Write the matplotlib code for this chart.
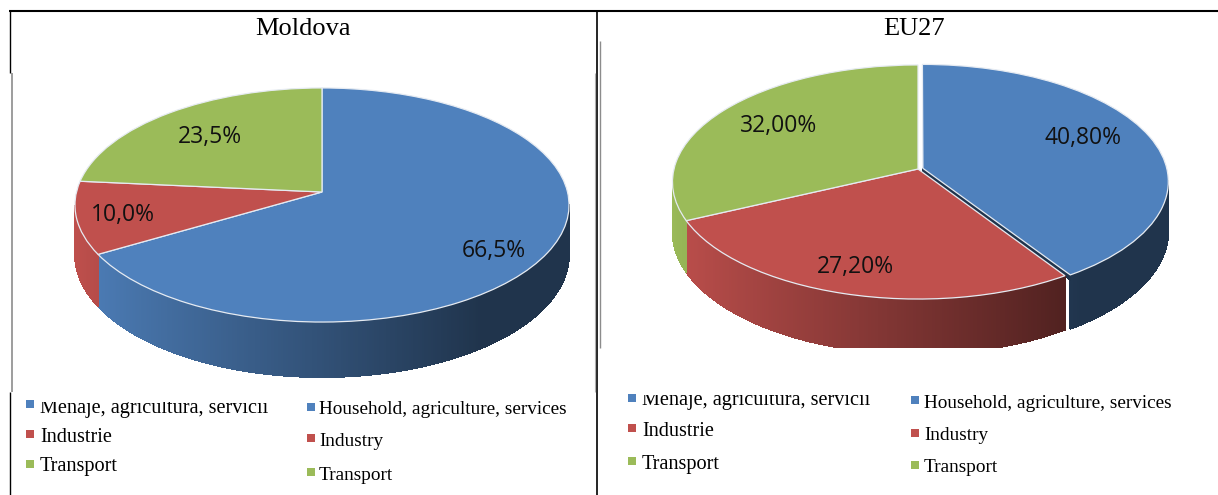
import numpy as np
import matplotlib
matplotlib.use("Agg")
import matplotlib.pyplot as plt
from matplotlib.transforms import Transform, Bbox, TransformedBbox
from matplotlib.collections import PolyCollection
from matplotlib.patches import Rectangle
from matplotlib.colors import to_rgb

# ---- data ----
moldova_values = [66.5, 10.0, 23.5]
eu_values = [40.80, 27.20, 32.00]
panel_titles = ["Moldova", "EU27"]
legend_ro = ["Menaje, agricultura, servicii", "Industrie", "Transport"]
legend_en = ["Household, agriculture, services", "Industry", "Transport"]
colors = ["#4f81bd", "#c0504d", "#9bbb59"]

K = 0.111      # perspective strength
A_Y = 115.6    # vertical radius scale, px
D = 49.0       # wall depth, px


class Persp(Transform):
    """Tilted-disc projection: unit-circle pie coordinates to pixel coordinates."""
    input_dims = 2
    output_dims = 2
    is_separable = False

    def __init__(self, cx, cy, ax_scale):
        super().__init__()
        self.cx, self.cy, self.ax_scale = cx, cy, ax_scale

    def transform_non_affine(self, v):
        v = np.asarray(v, float)
        w = 1 + K * v[:, 1]
        return np.column_stack([self.cx + self.ax_scale * v[:, 0] / w,
                                self.cy - A_Y * v[:, 1] / w])


fig = plt.figure(figsize=(12.18, 4.95), dpi=100)
ax = fig.add_axes([0, 0, 1, 1])


def lerp_shade(color, x_frac):
    f = np.clip(1.0 - 0.75 * x_frac, 0.4, 1.0)
    return tuple(c * f for c in to_rgb(color))


def draw_pie(values, cx, cy, rx, explode, clip_y=None):
    tr = Persp(cx, cy, rx)
    fr = np.asarray(values, float) / sum(values)
    start = 90.0
    polys, cols = [], []
    for i, f in enumerate(fr):
        t0, t1 = start, start - 360 * f
        start = t1
        mid = np.radians((t0 + t1) / 2)
        ox, oy = explode[i] * np.cos(mid), explode[i] * np.sin(mid)
        ths = np.radians(np.arange(t1, t0, 0.5).tolist() + [t0])
        for a, b in zip(ths[:-1], ths[1:]):
            if np.sin((a + b) / 2) > -K:
                continue
            p = np.array([[np.cos(a) + ox, np.sin(a) + oy],
                          [np.cos(b) + ox, np.sin(b) + oy]])
            top = tr.transform_non_affine(p)
            d = D / (1 + K * p[:, 1])
            bot = top + np.column_stack([np.zeros(2), d])
            polys.append([top[0], top[1], bot[1], bot[0]])
            cols.append(lerp_shade(colors[i], (np.cos(a) + 1) / 2))
        if explode[i] > 0:
            # thin exposed edge of the pulled-out slice
            a = np.radians(t1)
            p = np.array([[ox, oy], [np.cos(a) + ox, np.sin(a) + oy]])
            top = tr.transform_non_affine(p)
            bot = top + np.array([[0, 5.0], [0, 5.0]])
            polys.append([top[0], top[1], bot[1], bot[0]])
            cols.append(lerp_shade(colors[i], 1.0))
    coll = PolyCollection(polys, facecolors=cols, edgecolors=cols, linewidths=0.5,
                          antialiaseds=False, zorder=1)
    ax.add_collection(coll)
    if clip_y is not None:
        coll.set_clip_path(Rectangle((0, 0), 1218, clip_y, transform=ax.transData))
    wedges, _ = ax.pie(values, colors=colors, startangle=90, counterclock=False,
                       explode=explode, radius=1.0,
                       wedgeprops=dict(edgecolor="#e6ebf2", linewidth=0.9, zorder=2))
    for w in wedges:
        w.set_transform(tr + ax.transData)


draw_pie(moldova_values, 322, 192, 245.5, [0, 0, 0])
draw_pie(eu_values, 918, 169, 244, [0.021, 0, 0], clip_y=348)

ax.set_aspect("auto")
ax.set_xlim(0, 1218)
ax.set_ylim(495, 0)
ax.set_axis_off()

# ---- frame lines ----
for xs, ys, c, lw in [
    ((9, 1218), (11, 11), "black", 1.5),
    ((9.5, 9.5), (11, 73), "black", 1.0),
    ((9.5, 9.5), (392, 495), "black", 1.0),
    ((597, 597), (11, 495), "black", 1.2),
    ((11.5, 11.5), (73, 392), "#8c8c8c", 1.2),
    ((595, 595), (73, 392), "#b0b0b0", 0.8),
    ((600, 600), (41, 348), "#8c8c8c", 1.0),
]:
    ax.plot(xs, ys, color=c, lw=lw, solid_capstyle="butt", zorder=3)

serif = "Liberation Serif"
ax.text(303, 29, panel_titles[0], ha="center", va="center", family=serif, fontsize=19)
ax.text(914, 29, panel_titles[1], ha="center", va="center", family=serif, fontsize=19)


def pct(v, n):
    return f"{v:.{n}f}%".replace(".", ",")


lab = dict(ha="center", va="center", family="Open Sans", fontsize=16.5, color="#111111", zorder=4)
for v, (x, y) in zip(moldova_values, [(494, 251), (123, 215), (210, 137)]):
    ax.text(x, y, pct(v, 1), **lab)
for v, (x, y) in zip(eu_values, [(1083, 138), (855, 267), (779, 126)]):
    ax.text(x, y, pct(v, 2), **lab)


def legend_col(labels, sq_x, sq_ys, tx, ty, size, clip_top=None):
    for i, s in enumerate(labels):
        ax.scatter([sq_x], [sq_ys[i]], marker="s", s=36, color=colors[i], linewidths=0, zorder=4)
        t = ax.text(tx, ty[i], s, ha="left", va="center", family=serif, fontsize=size, zorder=4)
        if clip_top is not None and i == 0:
            t.set_clip_box(TransformedBbox(Bbox([[0, clip_top], [1218, 495]]), ax.transData))
            t.set_clip_on(True)


legend_col(legend_ro, 30, [404, 434, 464], 40, [408, 437, 467], 14.6, clip_top=402)
legend_col(legend_en, 310.5, [407, 438, 472], 319, [410, 441, 475], 13.9)
legend_col(legend_ro, 632, [398, 428, 461], 642, [401, 431, 464], 14.6, clip_top=395)
legend_col(legend_en, 915, [400, 433, 465], 924, [404, 435, 468], 13.9)

fig.savefig("out.png", dpi=100, facecolor="white")
